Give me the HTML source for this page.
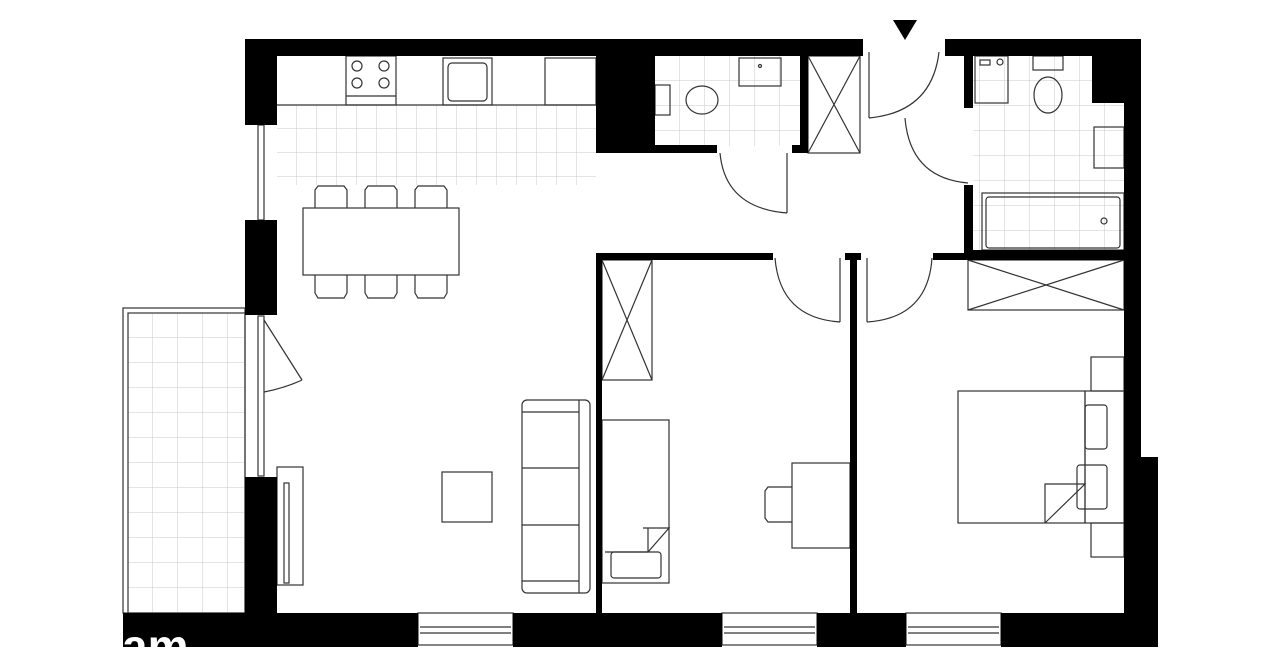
<!DOCTYPE html>
<html><head><meta charset="utf-8"><style>
html,body{margin:0;padding:0;background:#fff;width:1280px;height:667px;overflow:hidden}
svg{display:block}
</style></head><body>
<svg width="1280" height="667" viewBox="0 0 1280 667" xmlns="http://www.w3.org/2000/svg">
<defs>
<pattern id="tile" width="20" height="24" patternUnits="userSpaceOnUse" x="277" y="105">
<path d="M20 0V24M0 24H20" stroke="#c8c8c8" stroke-width="1" fill="none"/></pattern>
<pattern id="tile2" width="25" height="25" patternUnits="userSpaceOnUse" x="655" y="56">
<path d="M25 0V25M0 25H25" stroke="#c8c8c8" stroke-width="1" fill="none"/></pattern>
<pattern id="tile3" width="25" height="25" patternUnits="userSpaceOnUse" x="128" y="313">
<path d="M25 0V25M0 25H25" stroke="#c8c8c8" stroke-width="1" fill="none"/></pattern>
</defs>
<g fill="none" stroke="#333" stroke-width="1.2">
<rect x="277" y="105" width="319" height="80" fill="url(#tile)" stroke="none"/>
<rect x="655" y="56" width="145" height="90" fill="url(#tile2)" stroke="none"/>
<rect x="973" y="56" width="151" height="194" fill="url(#tile2)" stroke="none"/>
<rect x="123" y="308" width="122" height="305"/>
<rect x="128" y="313" width="117" height="300" fill="url(#tile3)"/>
<line x1="277" y1="105" x2="596" y2="105"/>
<rect x="346" y="56" width="50" height="49"/>
<line x1="346" y1="96" x2="396" y2="96"/>
<circle cx="357" cy="66" r="5"/><circle cx="384" cy="66" r="5"/><circle cx="357" cy="83" r="5"/><circle cx="384" cy="83" r="5"/>
<rect x="443" y="58" width="49" height="47"/><rect x="448" y="63" width="39" height="38" rx="4"/>
<rect x="545" y="58" width="51" height="47"/>
<rect x="303" y="208" width="156" height="67"/>
<path d="M315 208v-18l3-4h26l3 4v18M365 208v-18l3-4h26l3 4v18M415 208v-18l3-4h26l3 4v18"/>
<path d="M315 275v18l3 5h26l3-5v-18M365 275v18l3 5h26l3-5v-18M415 275v18l3 5h26l3-5v-18"/>
<rect x="522" y="400" width="68" height="193" rx="5"/>
<line x1="579" y1="400" x2="579" y2="593"/>
<path d="M522 412h57M522 468h57M522 525h57M522 581h57"/>
<rect x="442" y="472" width="50" height="50"/>
<rect x="277" y="467" width="26" height="118"/>
<rect x="284" y="483" width="5" height="100"/>
<rect x="258" y="316" width="6" height="160"/>
<path d="M264 320 L302 380 M264 392 Q285 388 302 380"/>
<rect x="258" y="125" width="6" height="95"/>
<rect x="655" y="85" width="15" height="30"/>
<ellipse cx="702" cy="100" rx="16" ry="14"/>
<rect x="739" y="58" width="42" height="28"/>
<circle cx="760" cy="66" r="1.5"/>
<rect x="808" y="56" width="52" height="97"/>
<path d="M808 56L860 153M860 56L808 153"/>
<path d="M720 153 Q725 208 787 213 M787 153V213"/>
<path d="M869 52V118 M869 118 Q932 112 939 52"/>
<path d="M905 118 Q910 178 968 183"/>
<rect x="975" y="56" width="33" height="47"/>
<rect x="980" y="60" width="10" height="5"/><circle cx="1000" cy="62" r="3"/>
<rect x="1033" y="56" width="30" height="14"/>
<ellipse cx="1048" cy="95" rx="14" ry="18"/>
<rect x="1094" y="127" width="30" height="41"/>
<rect x="982" y="193" width="142" height="57"/>
<rect x="986" y="197" width="134" height="51" rx="3"/>
<circle cx="1104" cy="221" r="3"/>
<rect x="602" y="260" width="50" height="120"/>
<path d="M602 260L652 380M652 260L602 380"/>
<rect x="968" y="260" width="156" height="50"/>
<path d="M968 260L1124 310M1124 260L968 310"/>
<path d="M775 258 Q780 318 840 322 M840 258V322"/>
<path d="M867 258V322 M867 322 Q928 318 932 258"/>
<rect x="602" y="420" width="67" height="163"/>
<path d="M643 528h26l-21 24h-43 M648 552v-24"/>
<rect x="611" y="552" width="50" height="26" rx="3"/>
<rect x="792" y="463" width="58" height="85"/>
<path d="M792 487h-24l-3 4v27l3 4h24"/>
<rect x="958" y="391" width="127" height="132"/>
<path d="M1045 523V484h40 L1045 523"/>
<rect x="1085" y="391" width="39" height="132"/>
<rect x="1091" y="357" width="33" height="34"/><rect x="1091" y="523" width="33" height="34"/>
<rect x="1085" y="405" width="22" height="44" rx="3"/><rect x="1077" y="465" width="30" height="44" rx="3"/>
<rect x="418" y="613" width="95" height="32" fill="#fff"/><line x1="420" y1="627" x2="511" y2="627"/><line x1="420" y1="633" x2="511" y2="633"/>
<rect x="722" y="613" width="95" height="32" fill="#fff"/><line x1="724" y1="627" x2="815" y2="627"/><line x1="724" y1="633" x2="815" y2="633"/>
<rect x="906" y="613" width="95" height="32" fill="#fff"/><line x1="908" y1="627" x2="999" y2="627"/><line x1="908" y1="633" x2="999" y2="633"/>
</g>
<g fill="#000">
<rect x="245" y="39" width="618" height="17"/>
<rect x="945" y="39" width="196" height="17"/>
<rect x="245" y="39" width="32" height="86"/>
<rect x="245" y="220" width="32" height="95"/>
<rect x="245" y="477" width="32" height="170"/>
<rect x="123" y="613" width="295" height="34"/>
<rect x="513" y="613" width="209" height="34"/>
<rect x="817" y="613" width="89" height="34"/>
<rect x="1001" y="613" width="157" height="34"/>
<rect x="1124" y="39" width="17" height="420"/>
<rect x="1124" y="457" width="34" height="190"/>
<rect x="1092" y="56" width="32" height="47"/>
<rect x="596" y="56" width="59" height="97"/>
<rect x="655" y="145" width="62" height="8"/>
<rect x="792" y="145" width="16" height="8"/>
<rect x="800" y="56" width="8" height="97"/>
<rect x="964" y="56" width="9" height="52"/>
<rect x="964" y="185" width="9" height="73"/>
<rect x="964" y="250" width="160" height="10"/>
<rect x="933" y="253" width="40" height="7"/>
<rect x="596" y="253" width="177" height="7"/>
<rect x="596" y="253" width="6" height="360"/>
<rect x="845" y="253" width="16" height="7"/>
<rect x="850" y="253" width="7" height="360"/>
<polygon points="893,20 917,20 905,40"/>
</g>
<text x="122" y="662" font-family="Liberation Sans, sans-serif" font-weight="bold" font-size="46" fill="#fff">am</text>
</svg>
</body></html>
